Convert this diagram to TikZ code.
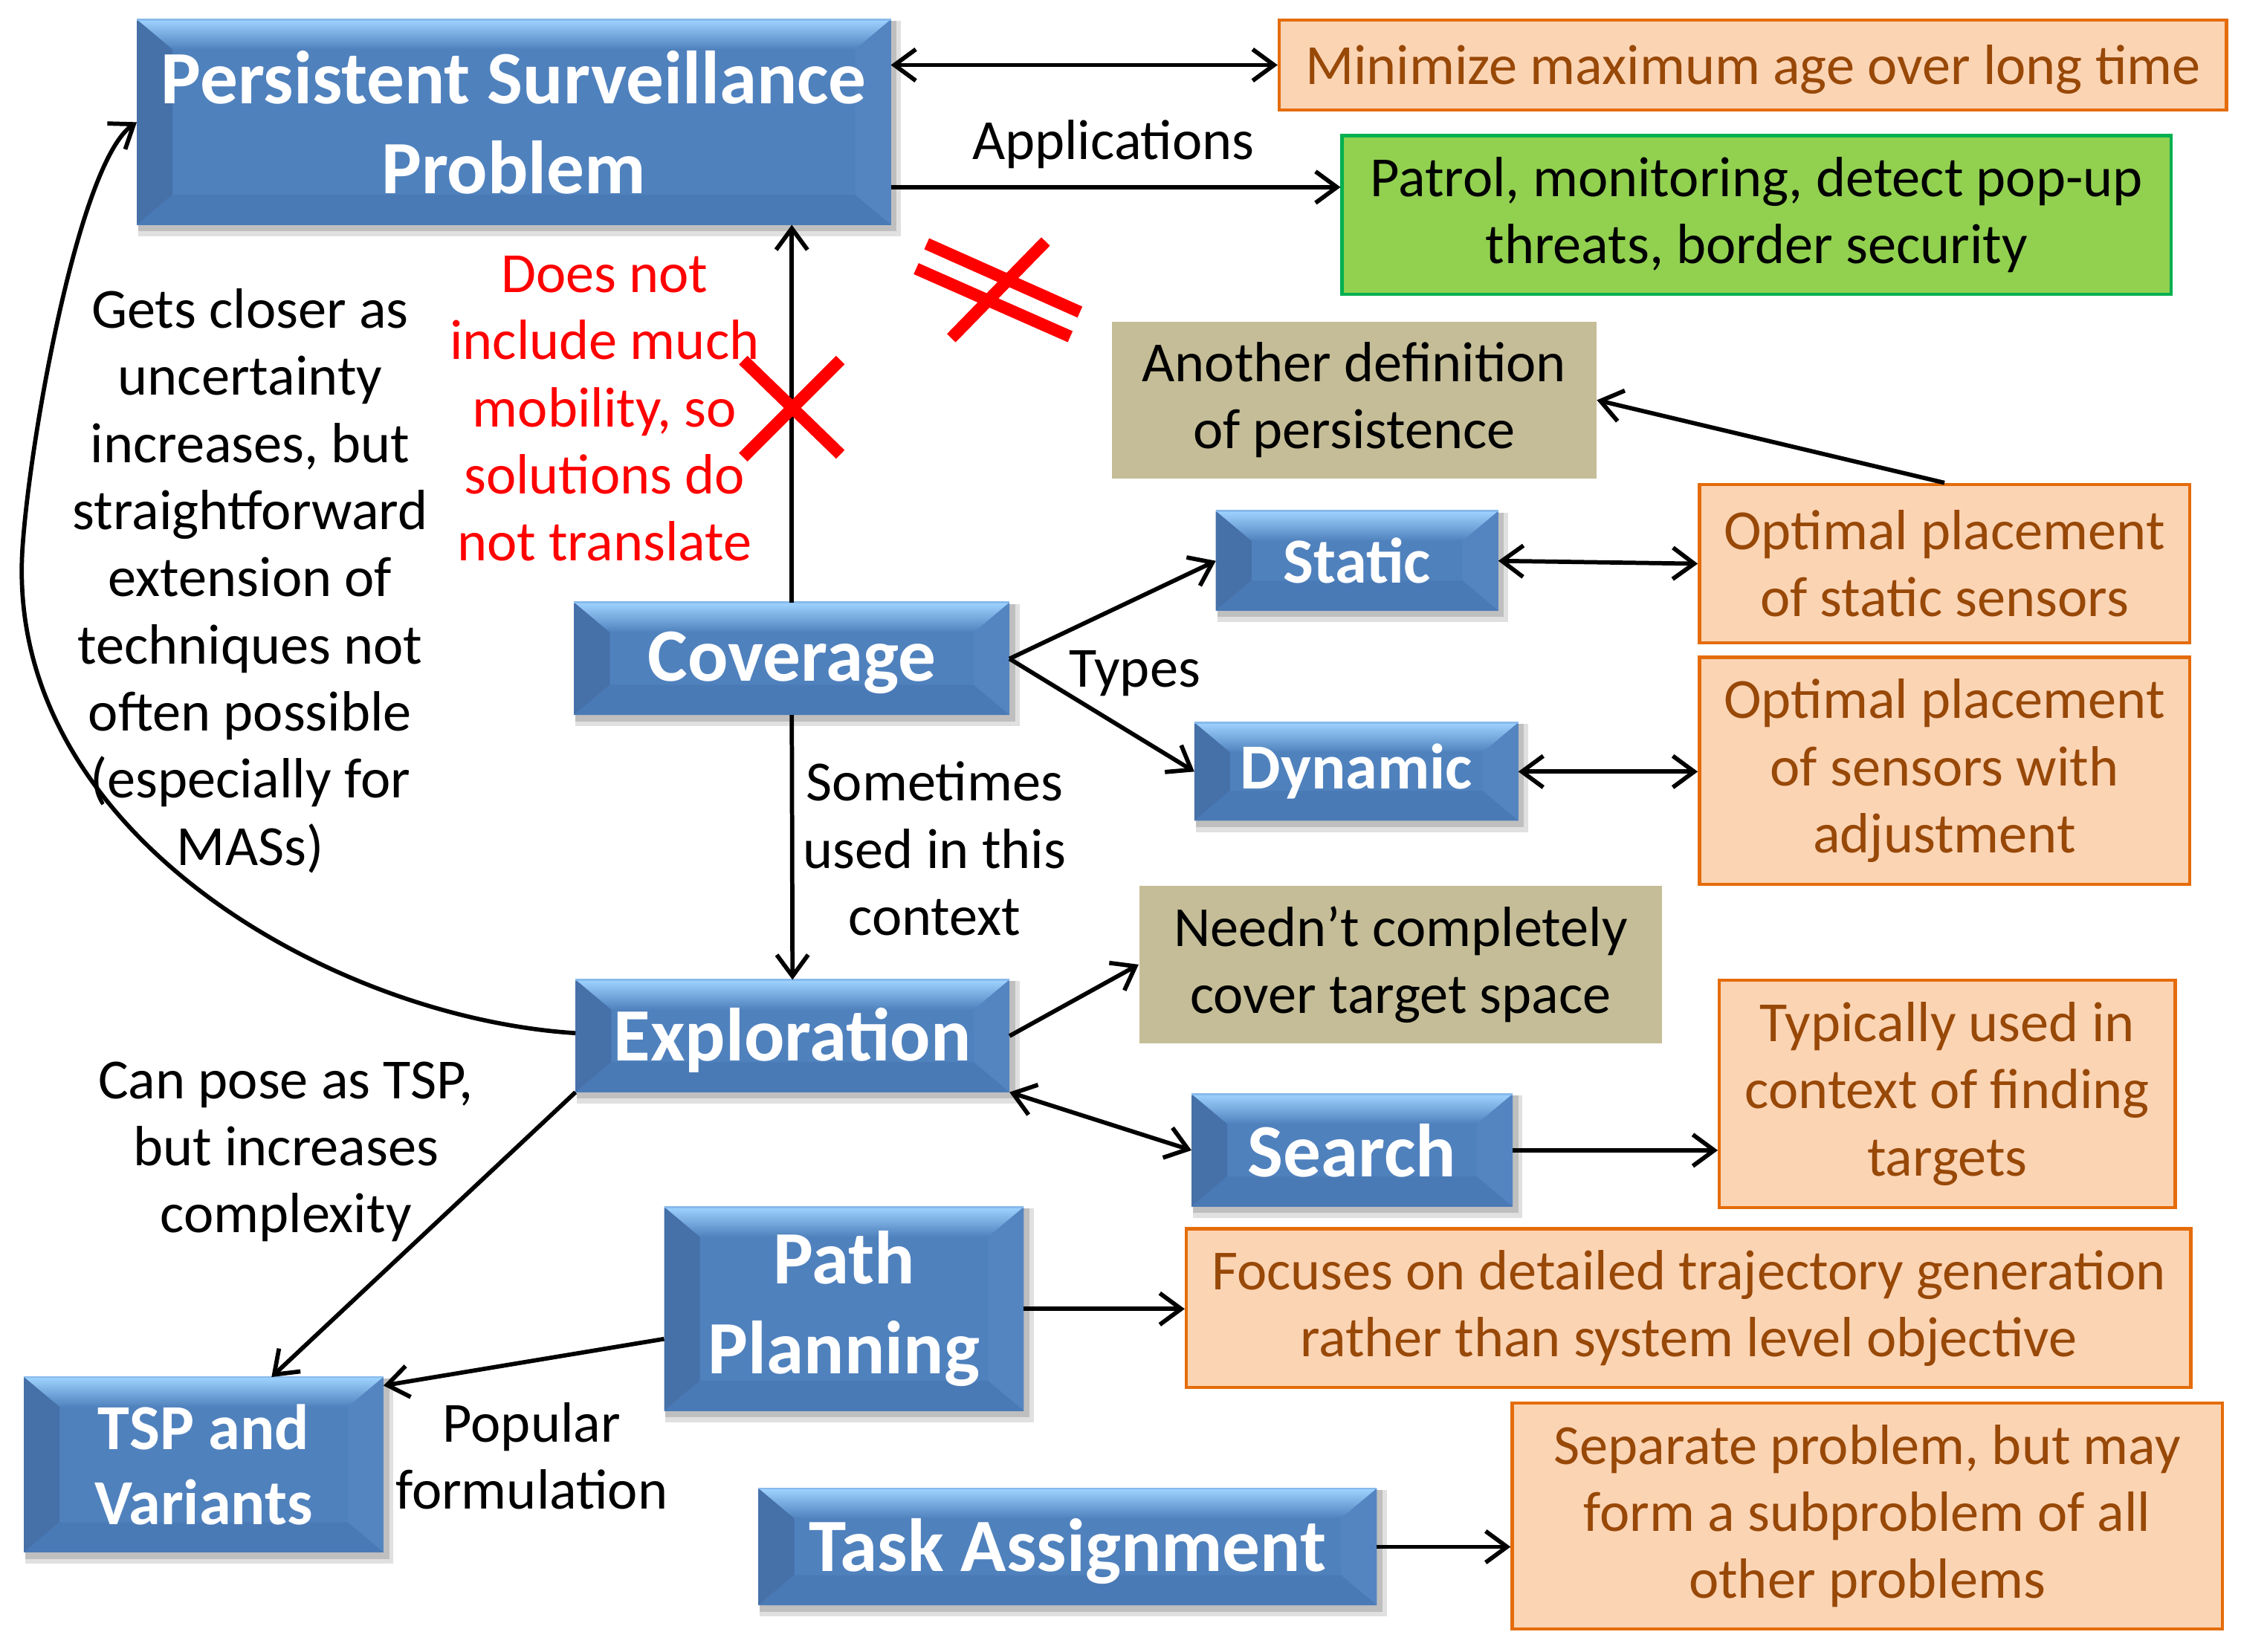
\documentclass[tikz,border=0pt]{standalone}
\usepackage{fontspec}
\setmainfont{Carlito}
\usetikzlibrary{arrows.meta,backgrounds}
\definecolor{boxblue}{HTML}{4F81BD}
\definecolor{bevlight}{HTML}{9FD3FF}
\definecolor{bevleft}{HTML}{4670A8}
\definecolor{bevright}{HTML}{5585C1}
\definecolor{bevbottom}{HTML}{4A7AB6}
\definecolor{orfill}{HTML}{FBD4B4}
\definecolor{ordraw}{HTML}{E46C0A}
\definecolor{ortext}{HTML}{984807}
\definecolor{khaki}{HTML}{C4BD97}
\definecolor{grfill}{HTML}{92D050}
\definecolor{grdraw}{HTML}{00B050}
\definecolor{redx}{HTML}{FF0000}
\newcommand\bvx{0.5cm}
\newcommand\bvy{0.42cm}
\newcommand\lowr[1]{\raisebox{-0.06cm}[\height][\depth]{#1}}
\newcommand\bevelbox[1]{%
  \fill[black,opacity=0.12] ([shift={(0.02cm,-0.16cm)}]#1.south west) rectangle ([shift={(0.14cm,-0.02cm)}]#1.north east);
  \fill[black,opacity=0.15] ([shift={(0.02cm,-0.09cm)}]#1.south west) rectangle ([shift={(0.08cm,-0.02cm)}]#1.north east);
  \fill[boxblue] (#1.south west) rectangle (#1.north east);
  \shade[top color=bevlight, bottom color=boxblue] (#1.north west) -- (#1.north east) -- ([shift={(-\bvx,-\bvy)}]#1.north east) -- ([shift={(\bvx,-\bvy)}]#1.north west) -- cycle;
  \fill[bevleft] (#1.north west) -- ([shift={(\bvx,-\bvy)}]#1.north west) -- ([shift={(\bvx,\bvy)}]#1.south west) -- (#1.south west) -- cycle;
  \fill[bevright] (#1.north east) -- ([shift={(-\bvx,-\bvy)}]#1.north east) -- ([shift={(-\bvx,\bvy)}]#1.south east) -- (#1.south east) -- cycle;
  \fill[bevbottom] (#1.south west) -- ([shift={(\bvx,\bvy)}]#1.south west) -- ([shift={(-\bvx,\bvy)}]#1.south east) -- (#1.south east) -- cycle;
  \draw[bevlight!70!boxblue, line width=0.8pt] (#1.north west) -- (#1.north east);
}
\begin{document}
\begin{tikzpicture}[x=0.02cm,y=-0.02cm,
  txt/.style={font=\fontsize{22.6}{26.75}\selectfont, align=center, inner sep=0pt},
  bluebox/.style={text=white, font=\fontsize{30}{35.8}\selectfont\bfseries, align=center, inner sep=0pt},
  smallblue/.style={bluebox, font=\fontsize{25.6}{30}\selectfont\bfseries},
  orbox/.style={txt, fill=orfill, draw=ordraw, line width=1.3pt, text=ortext},
  khbox/.style={txt, fill=khaki},
  grbox/.style={txt, fill=grfill, draw=grdraw, line width=1.3pt},
  redtxt/.style={txt, text=redx},
  arr/.style={-{Straight Barb[length=8.5pt,width=12.5pt]}, line width=1.7pt},
  dbl/.style={{Straight Barb[length=8.5pt,width=12.5pt]}-{Straight Barb[length=8.5pt,width=12.5pt]}, line width=1.7pt},
  redbar/.style={draw=redx, line width=4.8pt}]
\useasboundingbox (0,0) rectangle (1568,1156);

% blue nodes
\node[bluebox, minimum width=10.54cm, minimum height=2.86cm] (psp) at (359.5,85.5) {Persistent Surveillance\\Problem};
\node[bluebox, minimum width=6.08cm, minimum height=1.56cm] (cov) at (554,461) {\lowr{Coverage}};
\node[smallblue, minimum width=3.94cm, minimum height=1.38cm] (stat) at (949.5,392.5) {Static};
\node[smallblue, minimum width=4.52cm, minimum height=1.36cm] (dyn) at (949,540) {Dynamic};
\node[bluebox, minimum width=6.06cm, minimum height=1.56cm] (expl) at (554.5,725) {\lowr{Exploration}};
\node[bluebox, minimum width=4.48cm, minimum height=1.56cm] (search) at (946,805) {Search};
\node[bluebox, minimum width=5.02cm, minimum height=2.84cm] (path) at (590.5,916) {Path\\Planning};
\node[smallblue, minimum width=5.02cm, minimum height=2.44cm] (tsp) at (142.5,1025) {TSP and\\Variants};
\node[bluebox, minimum width=8.64cm, minimum height=1.62cm] (task) at (747,1082.5) {\lowr{Task Assignment}};

\begin{scope}[on background layer]
\foreach \n in {psp,cov,stat,dyn,expl,search,path,tsp,task} {\bevelbox{\n}}
\end{scope}

% other boxes
\node[orbox, minimum width=13.26cm, minimum height=1.26cm] (mini) at (1226.5,45.5) {\lowr{Minimize maximum age over long time}};
\node[grbox, minimum width=11.6cm, minimum height=2.22cm] (patrol) at (1229,150.5) {Patrol, monitoring, detect pop-up\\threats, border security};
\node[khbox, minimum width=6.78cm, minimum height=2.2cm] (another) at (947.5,280) {Another definition\\of persistence};
\node[orbox, minimum width=6.86cm, minimum height=2.22cm] (optstat) at (1360.5,394.5) {Optimal placement\\of static sensors};
\node[orbox, minimum width=6.86cm, minimum height=3.18cm] (optadj) at (1360.5,539.5) {Optimal placement\\of sensors with\\adjustment};
\node[khbox, minimum width=7.32cm, minimum height=2.2cm] (need) at (980,675) {Needn’t completely\\cover target space};
\node[orbox, minimum width=6.38cm, minimum height=3.18cm] (typ) at (1362.5,765.5) {Typically used in\\context of finding\\targets};
\node[orbox, minimum width=14.06cm, minimum height=2.22cm] (focus) at (1181.5,915.5) {Focuses on detailed trajectory generation\\rather than system level objective};
\node[orbox, minimum width=9.94cm, minimum height=3.16cm] (sep) at (1306.5,1061) {Separate problem, but may\\form a subproblem of all\\other problems};

% labels
\node[txt] (lapp) at (779,101) {Applications};
\node[txt] (ltypes) at (794,471) {Types};
\node[txt] (lsome) at (654,594) {Sometimes\\used in this\\context};
\node[txt] (lgets) at (175,406.5) {Gets closer as\\uncertainty\\increases, but\\straightforward\\extension of\\techniques not\\often possible\\(especially for\\MASs)};
\node[redtxt] (lred) at (423,286) {Does not\\include much\\mobility, so\\solutions do\\not translate};
\node[txt] (lpose) at (200,806) {Can pose as TSP,\\but increases\\complexity};
\node[txt] (lpop) at (372,1019) {Popular\\formulation};

% connectors
\draw[dbl] (psp.east |- mini.west) -- (mini.west);
\draw[arr] ([yshift=-0.91cm]psp.east) -- ([yshift=-0.91cm]psp.east -| patrol.west);
\draw[arr] (cov.north) -- (cov.north |- psp.south);
\draw[arr] (cov.east) -- (stat.west);
\draw[arr] (cov.east) -- (dyn.west);
\draw[dbl] (stat.east) -- (optstat.west);
\draw[dbl] (dyn.east) -- (dyn.east -| optadj.west);
\draw[arr] (optstat.north) -- (another.east);
\draw[arr] (cov.south) -- (expl.north);
\draw[arr] (expl.east) -- (need.west);
\draw[dbl] (expl.south east) -- (search.west);
\draw[arr] (search.east) -- (search.east -| typ.west);
\draw[arr] (expl.south west) -- ([xshift=0.95cm]tsp.north);
\draw[arr] ([yshift=-0.42cm]path.west) -- ([yshift=-0.12cm]tsp.north east);
\draw[arr] (path.east) -- (path.east -| focus.west);
\draw[arr] (task.east) -- (task.east -| sep.west);
\draw[arr] ([yshift=0.04cm]expl.west) .. controls (230,712) and (0,580) .. (16,380) .. controls (22,300) and (56,113) .. (psp.west);

% red crosses
\draw[redbar] (520,252) -- (588,318) (588,252) -- (520,320);
\draw[redbar] (648.4,170.6) -- (755.6,218.4) (641,188) -- (748.8,235.6) (731.6,169) -- (665.6,236.6);
\end{tikzpicture}
\end{document}
